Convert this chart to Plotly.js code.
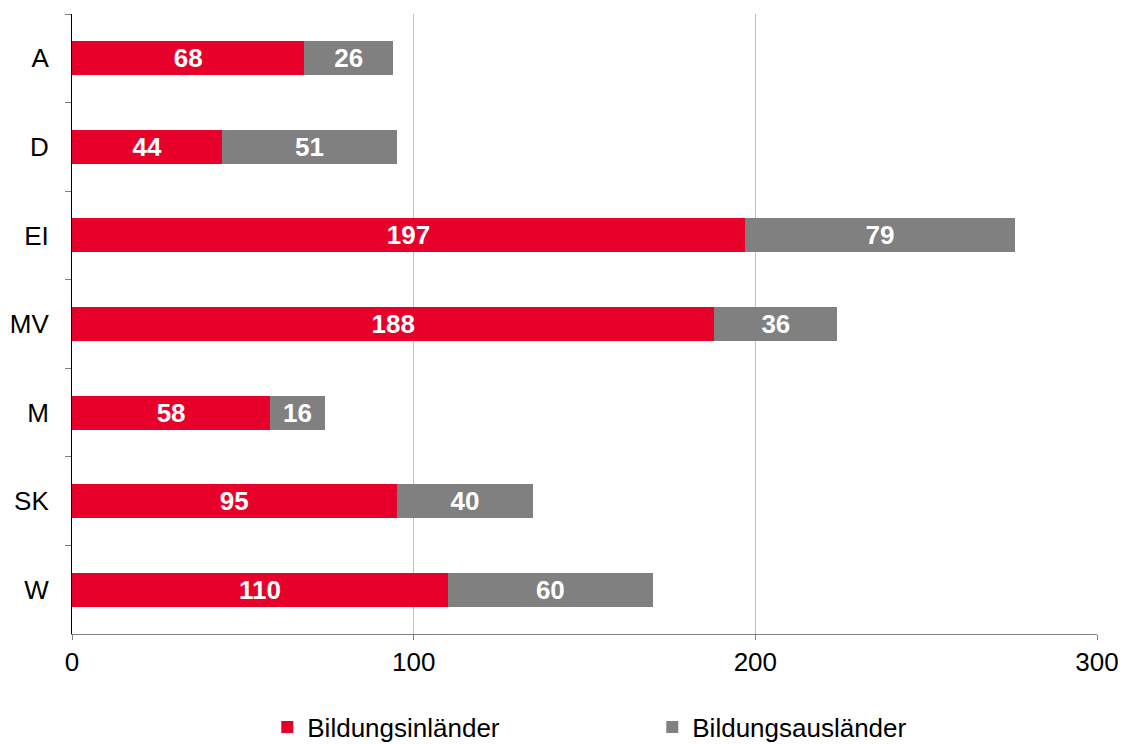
<!DOCTYPE html>
<html>
<head>
<meta charset="utf-8">
<script src="https://cdn.plot.ly/plotly-3.0.1.min.js"></script>
<style>html,body{margin:0;padding:0;background:#fff;}#chart{width:1123px;height:744px;}</style>
</head>
<body>
<div id="chart"></div>
<script>
const categories = ["A", "D", "EI", "MV", "M", "SK", "W"];
const inlaender = [68, 44, 197, 188, 58, 95, 110];
const auslaender = [26, 51, 79, 36, 16, 40, 60];
const seriesNames = ["Bildungsinländer", "Bildungsausländer"];
const xTicks = [0, 100, 200, 300];

const labelFont = {family: "Liberation Sans, Arial, sans-serif", size: 26, color: "#ffffff", weight: "bold"};

const traces = [
  {type: "bar", orientation: "h", name: seriesNames[0], y: categories, x: inlaender,
   marker: {color: "#E6002A"}, text: inlaender.map(String), textposition: "inside",
   insidetextanchor: "middle", textangle: 0, constraintext: "none",
   textfont: labelFont, hoverinfo: "none"},
  {type: "bar", orientation: "h", name: seriesNames[1], y: categories, x: auslaender,
   marker: {color: "#808080"}, text: auslaender.map(String), textposition: "inside",
   insidetextanchor: "middle", textangle: 0, constraintext: "none",
   textfont: labelFont, hoverinfo: "none"}
];

const layout = {
  width: 1123, height: 744,
  margin: {l: 72, r: 26, t: 14, b: 110, autoexpand: false},
  barmode: "stack",
  bargap: 0.615,
  paper_bgcolor: "#ffffff", plot_bgcolor: "#ffffff",
  font: {family: "Liberation Sans, Arial, sans-serif", size: 26, color: "#000000"},
  xaxis: {range: [0, 300], tickvals: xTicks, ticktext: xTicks.map(String),
    showgrid: true, gridcolor: "#c0c0c0", gridwidth: 1, zeroline: false,
    showline: true, linecolor: "#808080", linewidth: 1,
    ticks: "outside", ticklen: 5, tickcolor: "#808080", ticklabelstandoff: 0,
    tickfont: {size: 26}},
  yaxis: {autorange: "reversed", type: "category", showgrid: false, zeroline: false,
    showline: true, linecolor: "#000000", linewidth: 1,
    ticks: "outside", tickson: "boundaries", ticklen: 6, tickcolor: "#808080",
    ticklabelstandoff: 17, tickfont: {size: 26}},
  showlegend: true,
  legend: {orientation: "h", x: 0.238, xanchor: "left", xref: "container",
    y: -0.15, yref: "paper", yanchor: "middle",
    font: {size: 26}, entrywidth: 340, entrywidthmode: "pixels",
    itemwidth: 30, traceorder: "normal"}
};

Plotly.newPlot("chart", traces, layout, {displayModeBar: false, staticPlot: true});
</script>
</body>
</html>
